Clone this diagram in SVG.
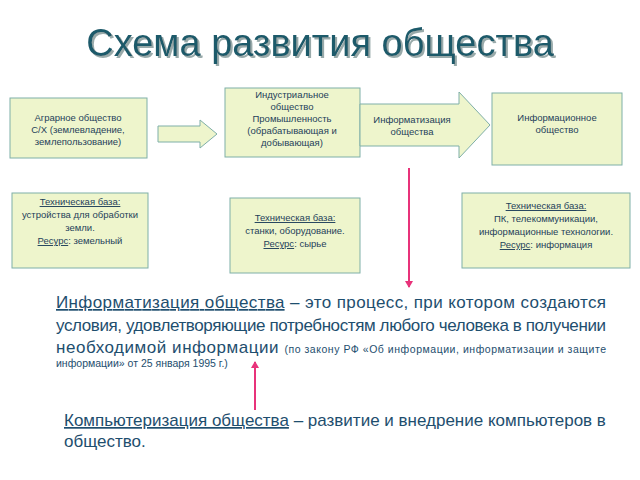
<svg xmlns="http://www.w3.org/2000/svg" width="640" height="480" viewBox="0 0 640 480">
<style>
.box{fill:#EEF5CC;stroke:#7FAFA8;stroke-width:1}
.t{font-family:"Liberation Sans",Arial,sans-serif;font-size:9.5px;fill:#1E3F5A;text-anchor:middle}
.p{font-family:"Liberation Sans",Arial,sans-serif;font-size:17px;fill:#1E4E6E}
.s{font-size:10.5px}
.pink{stroke:#E8337A;stroke-width:2;fill:none}
</style>
<defs>
<marker id="ah" markerWidth="8" markerHeight="8" refX="6" refY="4" orient="auto" markerUnits="userSpaceOnUse"><path d="M0,0 L7,4 L0,8 Z" fill="#E8337A"/></marker>
<filter id="sh" x="-5%" y="-20%" width="110%" height="140%"><feDropShadow dx="2" dy="2" stdDeviation="0.5" flood-color="#99AAAA"/></filter>
</defs>
<rect width="640" height="480" fill="#fff"/>
<text x="320" y="56" font-family="'Liberation Sans',Arial,sans-serif" font-size="38" fill="#1E5A6A" text-anchor="middle" filter="url(#sh)">Схема развития общества</text>
<g id="agr"><rect class="box" x="10" y="98" width="137" height="60"/>
<text class="t" x="78" y="121">Аграрное общество</text><text class="t" x="78" y="133">С/Х (землевладение,</text><text class="t" x="78" y="145">землепользование)</text></g>
<g id="ind"><rect class="box" x="225" y="88" width="135" height="69"/>
<text class="t" x="292" y="98">Индустриальное</text><text class="t" x="292" y="110">общество</text><text class="t" x="292" y="122">Промышленность</text><text class="t" x="292" y="134">(обрабатывающая и</text><text class="t" x="292" y="146">добывающая)</text></g>
<g id="infa"><path class="box" d="M360,104 H459 V92 L490,125 L459,158 V146 H360 Z"/>
<text class="t" x="412" y="123">Информатизация</text><text class="t" x="412" y="135">общества</text></g>
<g id="info"><rect class="box" x="492" y="93" width="130" height="72"/>
<text class="t" x="557" y="121">Информационное</text><text class="t" x="557" y="133">общество</text></g>
<g id="b1"><rect class="box" x="12" y="193" width="136" height="75"/>
<text class="t" x="80" y="205" text-decoration="underline">Техническая база:</text><text class="t" x="80" y="218">устройства для обработки</text><text class="t" x="80" y="231">земли.</text><text class="t" x="80" y="244"><tspan text-decoration="underline">Ресурс</tspan>: земельный</text></g>
<g id="b2"><rect class="box" x="230" y="198" width="130" height="75"/>
<text class="t" x="295" y="221" text-decoration="underline">Техническая база:</text><text class="t" x="295" y="234">станки, оборудование.</text><text class="t" x="295" y="247"><tspan text-decoration="underline">Ресурс</tspan>: сырье</text></g>
<g id="b3"><rect class="box" x="462" y="193" width="168" height="75"/>
<text class="t" x="546" y="209" text-decoration="underline">Техническая база:</text><text class="t" x="546" y="222">ПК, телекоммуникации,</text><text class="t" x="546" y="235">информационные технологии.</text><text class="t" x="546" y="248"><tspan text-decoration="underline">Ресурс</tspan>: информация</text></g>
<g id="connectors">
<path class="box" d="M158,126 H200 V120 L217,134 L200,148 V142 H158 Z"/>
<line class="pink" x1="409" y1="168" x2="409" y2="287" marker-end="url(#ah)"/>
<line class="pink" x1="255" y1="410" x2="255" y2="362" marker-end="url(#ah)"/>
</g>
<g id="text">
<text class="p" x="56" y="308" textLength="550" lengthAdjust="spacing"><tspan text-decoration="underline">Информатизация общества</tspan> – это процесс, при котором создаются</text>
<text class="p" x="56" y="331" textLength="550" lengthAdjust="spacing">условия, удовлетворяющие потребностям любого человека в получении</text>
<text class="p" x="56" y="353" textLength="550" lengthAdjust="spacing">необходимой информации <tspan class="s">(по закону РФ «Об информации, информатизации и защите</tspan></text>
<text class="p s" x="56" y="367">информации» от 25 января 1995 г.)</text>
<text class="p" x="64" y="426" font-size="15.5"><tspan text-decoration="underline">Компьютеризация общества</tspan> – развитие и внедрение компьютеров в</text>
<text class="p" x="64" y="447" font-size="15.5">общество.</text>
</g>
</svg>
